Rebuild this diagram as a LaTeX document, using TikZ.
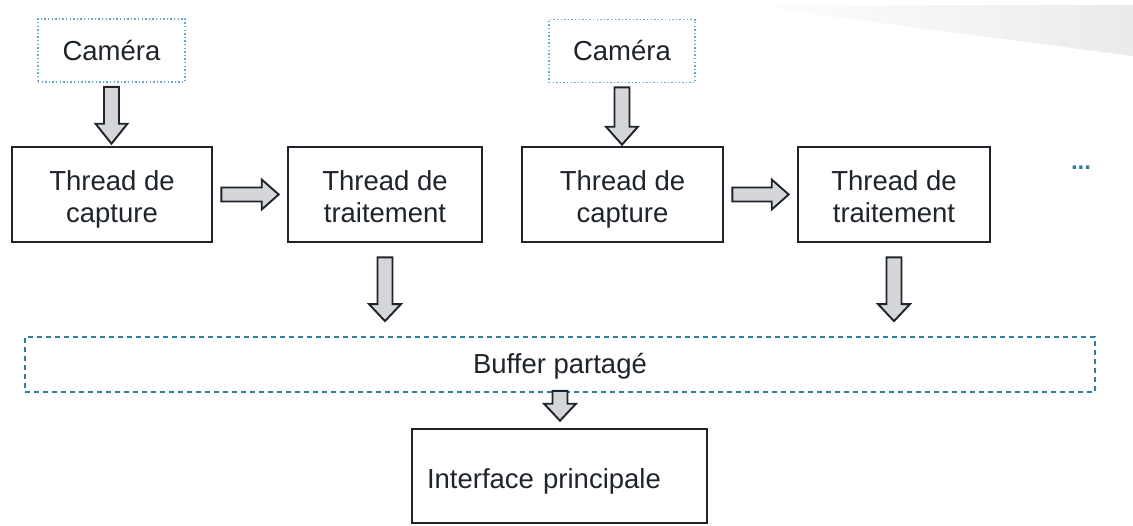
\documentclass[tikz,border=0pt]{standalone}
\usepackage{fontspec}
\setmainfont{Liberation Sans}
\usetikzlibrary{calc}
\definecolor{camblue}{RGB}{95, 170, 215}
\definecolor{bufblue}{RGB}{45, 125, 165}
\definecolor{arrowgray}{RGB}{212, 214, 218}
\definecolor{inkdark}{RGB}{30, 36, 42}

% struts that keep both text lines of a thread box at the same baselines
\newcommand{\topstrut}{\rule{0pt}{32pt}}
\newcommand{\botstrut}{\rule[-9pt]{0pt}{9pt}}

% block arrow going down from #1 to #2 (gaps #3, #4, head length #5)
\newcommand{\vblock}[5]{%
  \draw[barrow] let \p1=(#1.south), \p2=(#2.north) in
    (\x1-7.5pt,\y1-#3) -- (\x1+7.5pt,\y1-#3) -- (\x1+7.5pt,\y2+#4+#5) -- (\x1+16pt,\y2+#4+#5)
    -- (\x1,\y2+#4) -- (\x1-16pt,\y2+#4+#5) -- (\x1-7.5pt,\y2+#4+#5) -- cycle;}
% block arrow going right from #1 to #2
\newcommand{\hblock}[2]{%
  \draw[barrow] let \p1=(#1.east), \p2=(#2.west) in
    (\x1+8pt,\y1+7pt) -- (\x2-25pt,\y1+7pt) -- (\x2-25pt,\y1+15pt) -- (\x2-8pt,\y1)
    -- (\x2-25pt,\y1-15pt) -- (\x2-25pt,\y1-7pt) -- (\x1+8pt,\y1-7pt) -- cycle;}

\begin{document}
\begin{tikzpicture}[
  x=1pt, y=-1pt,
  every node/.style={text=inkdark},
  thread/.style={draw=inkdark, line width=2.6pt, minimum height=95pt, align=center, font=\fontsize{27.5}{32}\selectfont, inner sep=0pt},
  cambox/.style={draw=camblue, line width=1.8pt, dash pattern=on 1.4pt off 2.2pt, minimum height=63pt, minimum width=147pt, font=\fontsize{27.5}{30}\selectfont},
  barrow/.style={draw=inkdark, line width=1.9pt, fill=arrowgray, line join=miter}
]
  \useasboundingbox (0,0) rectangle (1133,525);
  % faint slide shading, top right
  \shade[left color=white, right color=gray!16] (743,5) -- (1133,5) -- (1133,56) -- cycle;

  % first camera
  \node[cambox] (cam1) at (111.5,50.5) {Caméra};
  \node[thread, minimum width=200pt] (cap1) at (112,194.5) {\topstrut Thread de\\capture\botstrut};
  \node[thread, minimum width=194pt] (trt1) at (385,194.5) {\topstrut Thread de\\traitement\botstrut};

  % second camera
  \node[cambox, minimum width=146pt] (cam2) at (622,51) {Caméra};
  \node[thread, minimum width=201pt] (cap2) at (622.5,194.5) {\topstrut Thread de\\capture\botstrut};
  \node[thread, minimum width=192pt] (trt2) at (894,194.5) {\topstrut Thread de\\traitement\botstrut};

  \node[text=bufblue, font=\fontsize{24}{24}\selectfont\bfseries] (more) at (1081,168) {...};

  % shared buffer and main interface
  \node[draw=bufblue, line width=1.8pt, dash pattern=on 5pt off 4pt, minimum width=1070pt, minimum height=55pt, font=\fontsize{27.5}{30}\selectfont] (buf) at (560,364.5) {\rule{0pt}{24pt}Buffer partagé};
  \node[thread, text width=265pt, inner xsep=15pt, minimum height=94pt, align=left] (ui) at (559.5,476) {\rule{0pt}{30pt}Interface principale\rule[-6pt]{0pt}{6pt}};

  \vblock{cam1}{cap1}{4pt}{2pt}{20pt}
  \vblock{cam2}{cap2}{4pt}{1pt}{18pt}
  \hblock{cap1}{trt1}
  \hblock{cap2}{trt2}
  \vblock{trt1}{buf}{14pt}{15pt}{17pt}
  \vblock{trt2}{buf}{14pt}{15pt}{17pt}
  \vblock{buf}{ui}{-2pt}{7pt}{17pt}
\end{tikzpicture}
\end{document}
